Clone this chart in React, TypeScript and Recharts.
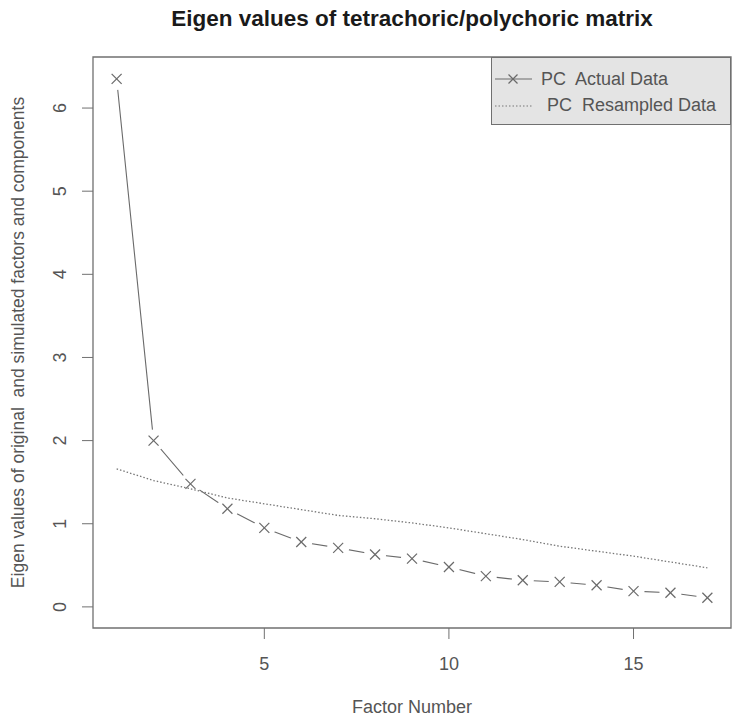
import React from "react";
import {
  ComposedChart,
  Line,
  Scatter,
  XAxis,
  YAxis,
  ReferenceArea,
  Legend,
  Label,
} from "recharts";

// scree plot values
const factors = [1, 2, 3, 4, 5, 6, 7, 8, 9, 10, 11, 12, 13, 14, 15, 16, 17];
const actualData = [
  6.35, 2.0, 1.48, 1.18, 0.95, 0.78, 0.71, 0.63, 0.58, 0.48, 0.37, 0.32, 0.3,
  0.26, 0.19, 0.17, 0.11,
];
const resampledData = [
  1.66, 1.52, 1.42, 1.31, 1.24, 1.17, 1.1, 1.06, 1.01, 0.95, 0.88, 0.81, 0.73,
  0.67, 0.61, 0.54, 0.47,
];
const xTicks = [5, 10, 15];
const yTicks = [0, 1, 2, 3, 4, 5, 6];

const title = "Eigen values of tetrachoric/polychoric matrix";
const xTitle = "Factor Number";
const yTitle = "Eigen values of original  and simulated factors and components";
const legendLabels = ["PC  Actual Data", " PC  Resampled Data"];

// R-style 4% padding around the data range (ylim starts at 0)
const xDomain = [0.36, 17.64];
const yDomain = [-0.254, 6.614];

const FONT = '"Liberation Sans", Arial, sans-serif';
const INK = "#555555";
const BOX = "#707070";
const SERIES = "#6a6a6a";

const data = factors.map((f, i) => ({
  factor: f,
  actual: actualData[i],
  resampled: resampledData[i],
}));

// type="b" look: white halo breaks the line around each cross
function XDot(props: any) {
  const { cx, cy } = props;
  if (cx == null || cy == null) return null;
  const s = 5;
  return (
    <g>
      <circle cx={cx} cy={cy} r={11} fill="#ffffff" stroke="none" />
      <line x1={cx - s} y1={cy - s} x2={cx + s} y2={cy + s} stroke={SERIES} strokeWidth={1.2} />
      <line x1={cx - s} y1={cy + s} x2={cx + s} y2={cy - s} stroke={SERIES} strokeWidth={1.2} />
    </g>
  );
}

function XTick(props: any) {
  const { x, y, payload } = props;
  return (
    <text x={x} y={y + 29} textAnchor="middle" fill={INK} fontSize={18} fontFamily={FONT}>
      {payload.value}
    </text>
  );
}

function YTick(props: any) {
  const { x, y, payload } = props;
  const tx = x - 14;
  return (
    <text
      x={tx}
      y={y}
      textAnchor="middle"
      fill={INK}
      fontSize={18}
      fontFamily={FONT}
      transform={`rotate(-90, ${tx}, ${y})`}
    >
      {payload.value}
    </text>
  );
}

function LegendBox() {
  return (
    <div
      style={{
        width: 238,
        height: 66,
        background: "#e4e4e4",
        border: `1px solid ${BOX}`,
        fontFamily: FONT,
        fontSize: 18,
        color: INK,
        position: "relative",
      }}
    >
      <svg width={40} height={60} style={{ position: "absolute", left: 2, top: 4 }}>
        <line x1={1} y1={17} x2={38} y2={17} stroke={SERIES} strokeWidth={1.2} />
        <line x1={14.5} y1={12.5} x2={23.5} y2={21.5} stroke={SERIES} strokeWidth={1.2} />
        <line x1={14.5} y1={21.5} x2={23.5} y2={12.5} stroke={SERIES} strokeWidth={1.2} />
        <line x1={1} y1={44} x2={38} y2={44} stroke="#777" strokeWidth={1.2} strokeDasharray="1.5 2" />
      </svg>
      <div style={{ position: "absolute", left: 49, top: 11, whiteSpace: "pre", lineHeight: "20px" }}>
        {legendLabels[0]}
      </div>
      <div style={{ position: "absolute", left: 50, top: 37, whiteSpace: "pre", lineHeight: "20px" }}>
        {legendLabels[1]}
      </div>
    </div>
  );
}

export default function App() {
  return (
    <div style={{ position: "absolute", left: 0, top: 0, width: 735, height: 726, background: "#fff" }}>
      <svg width={735} height={40} style={{ position: "absolute", left: 0, top: 0 }}>
        <text x={412} y={26} textAnchor="middle" fontFamily={FONT} fontWeight="bold" fontSize={22.5} fill="#1a1a1a">
          {title}
        </text>
      </svg>
      <ComposedChart
        width={735}
        height={726}
        data={data}
        margin={{ top: 57, right: 4, bottom: 0, left: 0 }}
        style={{ position: "absolute", left: 0, top: 0 }}
      >
        <XAxis
          dataKey="factor"
          type="number"
          domain={xDomain}
          ticks={xTicks}
          height={98}
          axisLine={false}
          tickSize={11}
          tickLine={{ stroke: BOX }}
          tick={<XTick />}
          allowDataOverflow
        >
          <Label
            content={(p: any) => {
              const vb = p.viewBox;
              return (
                <text
                  x={vb.x + vb.width / 2}
                  y={713}
                  textAnchor="middle"
                  fill={INK}
                  fontSize={18}
                  fontFamily={FONT}
                >
                  {xTitle}
                </text>
              );
            }}
          />
        </XAxis>
        <YAxis
          type="number"
          domain={yDomain}
          ticks={yTicks}
          width={93}
          axisLine={false}
          tickSize={11}
          tickLine={{ stroke: BOX }}
          tick={<YTick />}
          allowDataOverflow
        >
          <Label
            content={(p: any) => {
              const vb = p.viewBox;
              const cy = vb.y + vb.height / 2;
              return (
                <text
                  x={24}
                  y={cy}
                  textAnchor="middle"
                  fill={INK}
                  fontSize={17.5}
                  fontFamily={FONT}
                  style={{ whiteSpace: "pre" }}
                  transform={`rotate(-90, 24, ${cy})`}
                >
                  {yTitle}
                </text>
              );
            }}
          />
        </YAxis>
        <ReferenceArea
          x1={xDomain[0]}
          x2={xDomain[1]}
          y1={yDomain[0]}
          y2={yDomain[1]}
          fill="none"
          stroke={BOX}
          strokeWidth={1.3}
          fillOpacity={0}
          ifOverflow="visible"
        />
        <Scatter
          dataKey="actual"
          line={{ stroke: SERIES, strokeWidth: 1.1 }}
          lineType="joint"
          shape={<XDot />}
          isAnimationActive={false}
        />
        <Line
          dataKey="resampled"
          type="linear"
          stroke="#777"
          strokeWidth={1.3}
          strokeDasharray="1.5 2"
          dot={false}
          activeDot={false}
          isAnimationActive={false}
          zIndex={700}
        />
        <Legend
          layout="vertical"
          align="center"
          verticalAlign="middle"
          content={() => <LegendBox />}
          wrapperStyle={{ position: "absolute", left: 491, top: 57, width: 240, height: 68 }}
        />
      </ComposedChart>
    </div>
  );
}
